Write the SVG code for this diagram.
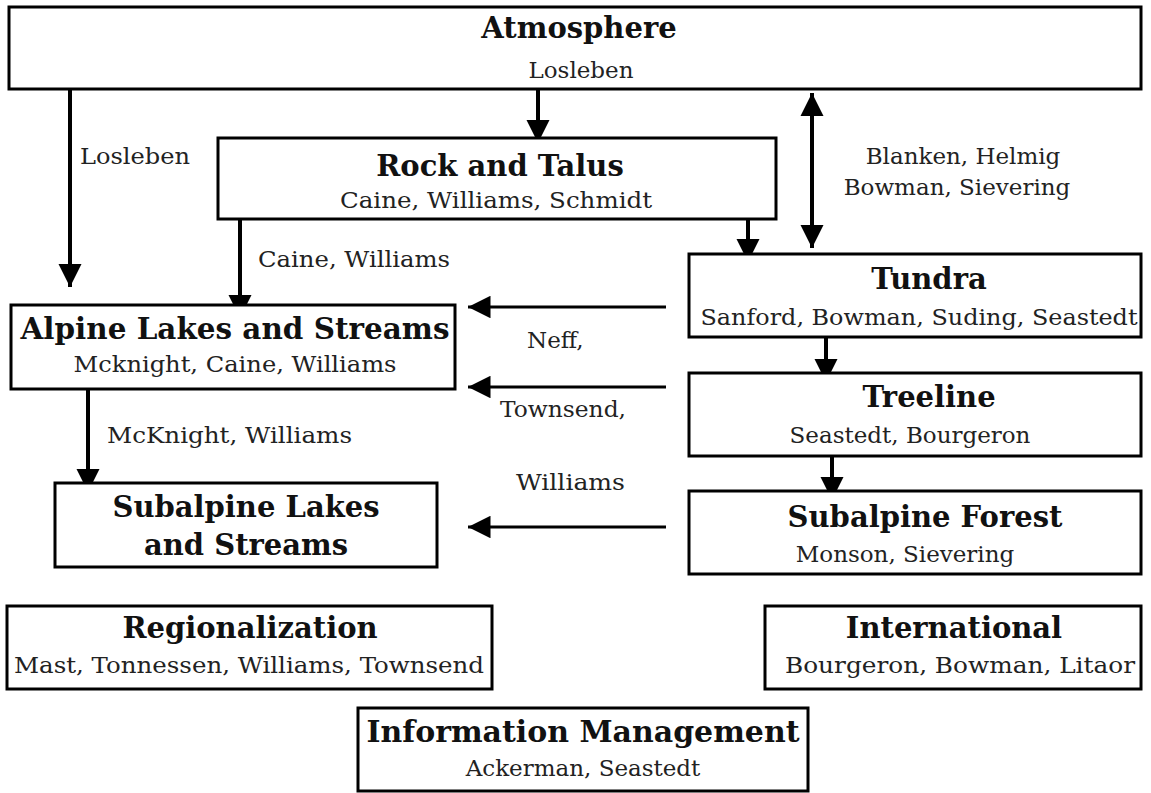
<svg xmlns="http://www.w3.org/2000/svg" width="1151" height="793" viewBox="0 0 1151 793">
<style>
.box{fill:#fff;stroke:#000;stroke-width:3}
.t{font-family:"DejaVu Serif","Liberation Serif",serif;font-weight:bold;font-size:29px;text-anchor:middle;fill:#111}
.s{font-family:"DejaVu Serif","Liberation Serif",serif;font-size:23px;text-anchor:middle;fill:#222}
.l{font-family:"DejaVu Serif","Liberation Serif",serif;font-size:23px;fill:#222}
.a{stroke:#000;stroke-width:4;fill:none}
.h{stroke:#000;stroke-width:3;fill:none}
</style>
<defs>
<marker id="ah" viewBox="0 0 10 10" refX="10" refY="5" markerWidth="5.8" markerHeight="5.8" markerUnits="strokeWidth" orient="auto-start-reverse">
<path d="M0,0 L10,5 L0,10 Z" fill="#000"/>
</marker>
<marker id="ahh" viewBox="0 0 10 10" refX="10" refY="5" markerWidth="7.5" markerHeight="7.5" markerUnits="strokeWidth" orient="auto">
<path d="M0,0 L10,5 L0,10 Z" fill="#000"/>
</marker>
</defs>
<g id="connectors">
<line class="a" x1="538" y1="89" x2="538" y2="143" marker-end="url(#ah)"/>
<line class="a" x1="70" y1="89" x2="70" y2="287" marker-end="url(#ah)"/>
<line class="a" x1="240" y1="219" x2="240" y2="318" marker-end="url(#ah)"/>
<line class="a" x1="748" y1="219" x2="748" y2="262" marker-end="url(#ah)"/>
<line class="a" x1="812" y1="93" x2="812" y2="248" marker-start="url(#ah)" marker-end="url(#ah)"/>
<line class="a" x1="826" y1="337" x2="826" y2="382" marker-end="url(#ah)"/>
<line class="a" x1="832" y1="456" x2="832" y2="500" marker-end="url(#ah)"/>
<line class="a" x1="88" y1="389" x2="88" y2="492" marker-end="url(#ah)"/>
<line class="h" x1="666" y1="307" x2="468" y2="307" marker-end="url(#ahh)"/>
<line class="h" x1="666" y1="387" x2="468" y2="387" marker-end="url(#ahh)"/>
<line class="h" x1="666" y1="527" x2="468" y2="527" marker-end="url(#ahh)"/>
<text class="l" x="80" y="164" textLength="110" lengthAdjust="spacingAndGlyphs">Losleben</text>
<text class="l" x="258" y="267" textLength="192" lengthAdjust="spacingAndGlyphs">Caine, Williams</text>
<text class="s" x="963" y="164">Blanken, Helmig</text>
<text class="s" x="957" y="195">Bowman, Sievering</text>
<text class="l" x="107" y="443" textLength="245" lengthAdjust="spacingAndGlyphs">McKnight, Williams</text>
<text class="l" x="527" y="348">Neff,</text>
<text class="l" x="500" y="417" textLength="126" lengthAdjust="spacingAndGlyphs">Townsend,</text>
<text class="l" x="516" y="490" textLength="109" lengthAdjust="spacingAndGlyphs">Williams</text>
</g>
<g id="atmosphere">
<rect class="box" x="9" y="7" width="1132" height="82"/>
<text class="t" x="579" y="38">Atmosphere</text>
<text class="s" x="581" y="78">Losleben</text>
</g>
<g id="rock">
<rect class="box" x="218" y="138" width="558" height="81"/>
<text class="t" x="500" y="176">Rock and Talus</text>
<text class="s" x="496" y="208" textLength="312" lengthAdjust="spacingAndGlyphs">Caine, Williams, Schmidt</text>
</g>
<g id="tundra">
<rect class="box" x="689" y="254" width="452" height="83"/>
<text class="t" x="929" y="289">Tundra</text>
<text class="s" x="919" y="325" textLength="437" lengthAdjust="spacingAndGlyphs">Sanford, Bowman, Suding, Seastedt</text>
</g>
<g id="treeline">
<rect class="box" x="689" y="373" width="452" height="83"/>
<text class="t" x="929" y="407">Treeline</text>
<text class="s" x="910" y="443">Seastedt, Bourgeron</text>
</g>
<g id="subalpine-forest">
<rect class="box" x="689" y="491" width="452" height="83"/>
<text class="t" x="925" y="527">Subalpine Forest</text>
<text class="s" x="905" y="562">Monson, Sievering</text>
</g>
<g id="alpine-lakes">
<rect class="box" x="11" y="305" width="444" height="84"/>
<text class="t" x="235" y="339" textLength="429" lengthAdjust="spacingAndGlyphs">Alpine Lakes and Streams</text>
<text class="s" x="235" y="372" textLength="323" lengthAdjust="spacingAndGlyphs">Mcknight, Caine, Williams</text>
</g>
<g id="subalpine-lakes">
<rect class="box" x="55" y="483" width="382" height="84"/>
<text class="t" x="246" y="517">Subalpine Lakes</text>
<text class="t" x="246" y="555">and Streams</text>
</g>
<g id="regionalization">
<rect class="box" x="7" y="606" width="485" height="83"/>
<text class="t" x="250" y="638">Regionalization</text>
<text class="s" x="249" y="673" textLength="470" lengthAdjust="spacingAndGlyphs">Mast, Tonnessen, Williams, Townsend</text>
</g>
<g id="international">
<rect class="box" x="765" y="606" width="376" height="83"/>
<text class="t" x="954" y="638">International</text>
<text class="s" x="960" y="673" textLength="350" lengthAdjust="spacingAndGlyphs">Bourgeron, Bowman, Litaor</text>
</g>
<g id="information-management">
<rect class="box" x="358" y="708" width="450" height="83"/>
<text class="t" x="583" y="742" textLength="433" lengthAdjust="spacingAndGlyphs">Information Management</text>
<text class="s" x="583" y="776">Ackerman, Seastedt</text>
</g>
</svg>
